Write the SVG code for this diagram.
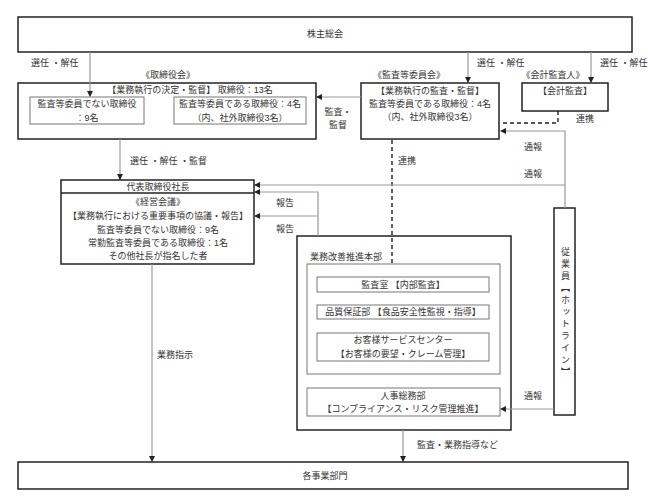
<svg xmlns="http://www.w3.org/2000/svg" width="648" height="504" viewBox="0 0 648 504">
<style>
text{font-family:"Liberation Sans","Noto Sans CJK JP",sans-serif;font-size:9px;fill:#333;}
.m{text-anchor:middle;}
.b{fill:#fff;stroke:#222;stroke-width:1.5;}
.g{fill:#fff;stroke:#777;stroke-width:1;}
.c{fill:none;stroke:#999;stroke-width:1.2;}
.d{fill:none;stroke:#222;stroke-width:1.4;stroke-dasharray:4,3;}
</style>
<defs>
<marker id="ar" markerWidth="6" markerHeight="6" refX="5" refY="3" orient="auto" markerUnits="userSpaceOnUse">
<path d="M0,0 L6,3 L0,6 Z" fill="#222"/>
</marker>
</defs>
<g id="shareholders"><rect class="b" x="18" y="17" width="614" height="35"/><text class="m" x="325" y="37">株主総会</text></g>
<g id="board">
<text class="m" x="168" y="78">《取締役会》</text>
<rect class="b" x="18" y="83" width="298" height="56"/>
<text class="m" x="190" y="93">【業務執行の決定・監督】 取締役：13名</text>
<rect class="g" x="30" y="97" width="114" height="27"/>
<text class="m" x="87" y="107">監査等委員でない取締役</text>
<text class="m" x="87" y="121">：9名</text>
<rect class="g" x="174" y="97" width="132" height="27"/>
<text class="m" x="240" y="107">監査等委員である取締役：4名</text>
<text class="m" x="240" y="121">（内、社外取締役3名）</text>
</g>
<g id="audit-committee">
<text class="m" x="409" y="78">《監査等委員会》</text>
<rect class="b" x="361" y="83" width="138" height="56"/>
<text class="m" x="430" y="94">【業務執行の監査・監督】</text>
<text class="m" x="430" y="107">監査等委員である取締役：4名</text>
<text class="m" x="430" y="120">（内、社外取締役3名）</text>
</g>
<g id="accounting-auditor">
<text class="m" x="553" y="78">《会計監査人》</text>
<rect class="b" x="522" y="83" width="86" height="28"/>
<text class="m" x="565" y="94">【会計監査】</text>
</g>
<g id="president">
<rect class="b" x="61" y="180" width="193" height="84"/>
<line x1="61" y1="193" x2="254" y2="193" stroke="#222" stroke-width="1.5"/>
<text class="m" x="158" y="190">代表取締役社長</text>
<text class="m" x="158" y="205">《経営会議》</text>
<text class="m" x="158" y="219">【業務執行における重要事項の協議・報告】</text>
<text class="m" x="158" y="233">監査等委員でない取締役：9名</text>
<text class="m" x="158" y="246">常勤監査等委員である取締役：1名</text>
<text class="m" x="158" y="259">その他社長が指名した者</text>
</g>
<g id="improvement-hq">
<rect class="b" x="297" y="236" width="214" height="194"/>
<text x="310" y="260">業務改善推進本部</text>
<rect class="g" x="307" y="264" width="193" height="110"/>
</g>
<g id="audit-office"><rect class="g" x="317" y="277" width="172" height="15"/><text class="m" x="403" y="288">監査室 【内部監査】</text></g>
<g id="quality"><rect class="g" x="317" y="305" width="172" height="14"/><text class="m" x="403" y="315">品質保証部 【食品安全性監視・指導】</text></g>
<g id="customer"><rect class="g" x="317" y="333" width="172" height="28"/><text class="m" x="403" y="343">お客様サービスセンター</text><text class="m" x="403" y="357">【お客様の要望・クレーム管理】</text></g>
<g id="hr"><rect class="g" x="307" y="388" width="193" height="28"/><text class="m" x="403" y="399">人事総務部</text><text class="m" x="403" y="412">【コンプライアンス・リスク管理推進】</text></g>
<g id="employees"><rect class="b" x="554" y="208" width="21" height="207"/>
<text x="565" y="247" style="writing-mode:vertical-rl;letter-spacing:3px;">従業員【ホットライン】</text></g>
<g id="divisions"><rect class="b" x="18" y="462" width="610" height="27"/><text class="m" x="325" y="479">各事業部門</text></g>
<g id="connectors">
<line class="c" x1="90" y1="52" x2="90" y2="96" marker-end="url(#ar)"/>
<line class="c" x1="468" y1="52" x2="468" y2="82" marker-end="url(#ar)"/>
<line class="c" x1="591" y1="52" x2="591" y2="82" marker-end="url(#ar)"/>
<line class="c" x1="361" y1="97" x2="317" y2="97" marker-end="url(#ar)"/>
<line class="c" x1="120" y1="139" x2="120" y2="179" marker-end="url(#ar)"/>
<polyline class="d" points="558,111 558,123 500,123"/>
<line class="d" x1="392" y1="140" x2="392" y2="264"/>
<polyline class="c" points="565,208 565,131 501,131" marker-end="url(#ar)"/>
<line class="c" x1="565" y1="185" x2="255" y2="185" marker-end="url(#ar)"/>
<polyline class="c" points="318,236 318,192 255,192" marker-end="url(#ar)"/>
<line class="c" x1="318" y1="216" x2="255" y2="216" marker-end="url(#ar)"/>
<line class="c" x1="554" y1="409" x2="501" y2="409" marker-end="url(#ar)"/>
<line class="c" x1="152" y1="264" x2="152" y2="461" marker-end="url(#ar)"/>
<line class="c" x1="403" y1="430" x2="403" y2="461" marker-end="url(#ar)"/>
<text x="31" y="66">選任 ・解任</text>
<text x="477" y="66">選任 ・解任</text>
<text x="600" y="66">選任 ・解任</text>
<text class="m" x="338" y="115">監査・</text>
<text class="m" x="338" y="128">監督</text>
<text x="576" y="122">連携</text>
<text x="398" y="164">連携</text>
<text x="524" y="150">通報</text>
<text x="524" y="177">通報</text>
<text x="130" y="164">選任 ・解任 ・監督</text>
<text x="276" y="206">報告</text>
<text x="276" y="232">報告</text>
<text x="524" y="399">通報</text>
<text x="157" y="358">業務指示</text>
<text x="417" y="448">監査・業務指導など</text>
</g>
</svg>
